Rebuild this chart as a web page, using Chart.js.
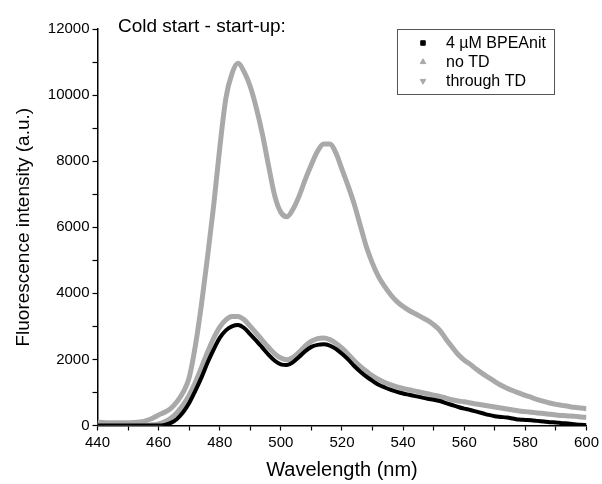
<!DOCTYPE html>
<html>
<head>
<meta charset="utf-8">
<script src="https://cdn.jsdelivr.net/npm/chart.js@4"></script>
<style>
  html, body { margin: 0; padding: 0; background: #fff; }
  #wrap { width: 602px; height: 484px; }
</style>
</head>
<body>
<div id="wrap"><canvas id="specChart" width="602" height="484"></canvas></div>
<script>
// wavelength grid (nm)
const wavelengths = [440, 442, 444, 446, 448, 450, 452, 454, 456, 458,
  460, 462, 464, 466, 468, 470, 472, 474, 476, 478,
  480, 482, 484, 486, 488, 490, 492, 494, 496, 498,
  500, 502, 504, 506, 508, 510, 512, 514, 516, 518,
  520, 522, 524, 526, 528, 530, 532, 534, 536, 538,
  540, 542, 544, 546, 548, 550, 552, 554, 556, 558,
  560, 562, 564, 566, 568, 570, 572, 574, 576, 578,
  580, 582, 584, 586, 588, 590, 592, 594, 596, 598, 600];

// 4 uM BPEAnit
const bpeaValues = [0, 0, 0, 0, 0, 0, 0, 0, 0, 0,
  0, 20, 80, 200, 400, 680, 1050, 1450, 1900, 2300,
  2650, 2880, 3000, 3040, 2950, 2760, 2560, 2350, 2140, 1960,
  1850, 1830, 1920, 2080, 2250, 2380, 2440, 2460, 2420, 2320,
  2170, 2000, 1800, 1630, 1480, 1350, 1230, 1150, 1080, 1020,
  970, 930, 890, 850, 810, 780, 740, 680, 620, 560,
  510, 470, 420, 370, 320, 280, 260, 240, 210, 180,
  170, 160, 140, 120, 100, 90, 70, 60, 40, 20, 10];

// no TD
const noTdValues = [100, 90, 80, 80, 80, 80, 90, 110, 150, 220,
  320, 400, 520, 720, 1000, 1450, 2400, 3650, 5100, 6650,
  8400, 9900, 10650, 10960, 10700, 10250, 9600, 8800, 7850, 6950,
  6450, 6320, 6550, 6950, 7450, 7900, 8300, 8520, 8520, 8250,
  7750, 7250, 6700, 6050, 5400, 4900, 4500, 4200, 3950, 3750,
  3600, 3480, 3380, 3280, 3180, 3050, 2880, 2620, 2380, 2150,
  1980, 1850, 1700, 1570, 1450, 1330, 1220, 1130, 1050, 980,
  910, 850, 780, 730, 680, 640, 610, 580, 550, 530, 510];

// through TD
const throughTdValues = [0, 0, 0, 0, 0, 0, 0, 0, 0, 20,
  50, 110, 220, 390, 620, 920, 1300, 1750, 2220, 2640,
  2980, 3200, 3300, 3300, 3200, 3000, 2790, 2570, 2360, 2170,
  2040, 1990, 2060, 2220, 2410, 2550, 2630, 2650, 2600, 2490,
  2340, 2160, 1960, 1790, 1640, 1500, 1390, 1300, 1230, 1170,
  1120, 1080, 1040, 1000, 960, 920, 880, 830, 780, 740,
  720, 680, 650, 620, 590, 560, 530, 500, 470, 440,
  420, 400, 380, 360, 340, 320, 300, 290, 280, 260, 250];

const seriesLabels = ['4 \u00b5M BPEAnit', 'no TD', 'through TD'];
const xTickLabels = [440, 460, 480, 500, 520, 540, 560, 580, 600];
const yTickLabels = [0, 2000, 4000, 6000, 8000, 10000, 12000];
const chartTitle = 'Cold start - start-up:';

const GRAY = '#a9a9a9';
const FONT = "'Liberation Sans', Arial, sans-serif";

const toPoints = vals => wavelengths.map((w, i) => ({ x: w, y: vals[i] }));

// title text + boxed legend inside the plot
const overlayPlugin = {
  id: 'overlay',
  afterDraw(chart) {
    const ctx = chart.ctx;
    const rows = [43, 62, 81];
    ctx.save();
    ctx.fillStyle = '#000';
    ctx.font = '19px ' + FONT;
    ctx.textBaseline = 'alphabetic';
    ctx.textAlign = 'left';
    ctx.fillText(chartTitle, 118, 32);

    // legend box
    ctx.strokeStyle = '#555';
    ctx.lineWidth = 1;
    ctx.strokeRect(397.5, 29.5, 157, 65);
    ctx.font = '16px ' + FONT;
    ctx.textBaseline = 'middle';
    chart.data.datasets.forEach((ds, i) => {
      ctx.fillStyle = ds.borderColor;
      ctx.strokeStyle = ds.borderColor;
      Chart.helpers.drawPoint(ctx, {
        pointStyle: ds.pointStyle,
        radius: 3.2,
        rotation: ds.pointRotation || 0,
        borderWidth: 1
      }, 423, rows[i]);
      ctx.fillStyle = '#000';
      ctx.fillText(ds.label, 446, rows[i] + 1);
    });
    ctx.restore();
  }
};

const ctx = document.getElementById('specChart').getContext('2d');
new Chart(ctx, {
  type: 'line',
  data: {
    datasets: [
      {
        label: seriesLabels[0],
        data: toPoints(bpeaValues),
        borderColor: '#000',
        backgroundColor: '#000',
        borderWidth: 4,
        pointStyle: 'rect',
        pointRotation: 0
      },
      {
        label: seriesLabels[1],
        data: toPoints(noTdValues),
        borderColor: GRAY,
        backgroundColor: GRAY,
        borderWidth: 5,
        pointStyle: 'triangle',
        pointRotation: 0
      },
      {
        label: seriesLabels[2],
        data: toPoints(throughTdValues),
        borderColor: GRAY,
        backgroundColor: GRAY,
        borderWidth: 5,
        pointStyle: 'triangle',
        pointRotation: 180
      }
    ]
  },
  options: {
    responsive: false,
    animation: false,
    elements: {
      point: { radius: 0 },
      line: { cubicInterpolationMode: 'monotone', fill: false }
    },
    layout: { padding: { top: 29, right: 13, left: 0, bottom: 0 } },
    plugins: {
      legend: { display: false },
      tooltip: { enabled: false }
    },
    scales: {
      x: {
        type: 'linear',
        min: 440,
        max: 600,
        afterFit: s => { s.height = 58.5; },
        ticks: {
          stepSize: 10,
          autoSkip: false,
          maxRotation: 0,
          padding: 3,
          color: '#000',
          font: { family: FONT, size: 15 },
          callback: v => xTickLabels.includes(v) ? String(v) : ''
        },
        grid: { display: true, drawOnChartArea: false, drawTicks: true, tickLength: 5, color: '#000', tickWidth: 1.2 },
        border: { display: true, color: '#000', width: 1.5 },
        title: {
          display: true,
          text: 'Wavelength (nm)',
          color: '#000',
          font: { family: FONT, size: 20 },
          padding: { top: 0, bottom: 2 }
        }
      },
      y: {
        min: 0,
        max: 12000,
        afterFit: s => { s.width = 97.5; },
        ticks: {
          stepSize: 1000,
          autoSkip: false,
          padding: 3,
          color: '#000',
          font: { family: FONT, size: 15 },
          callback: v => yTickLabels.includes(v) ? String(v) : ''
        },
        grid: { display: true, drawOnChartArea: false, drawTicks: true, tickLength: 5, color: '#000', tickWidth: 1.2 },
        border: { display: true, color: '#000', width: 1.5 },
        title: {
          display: true,
          text: 'Fluorescence intensity (a.u.)',
          color: '#000',
          font: { family: FONT, size: 19 },
          padding: { top: 12, bottom: 0 }
        }
      }
    }
  },
  plugins: [overlayPlugin]
});
</script>
</body>
</html>
